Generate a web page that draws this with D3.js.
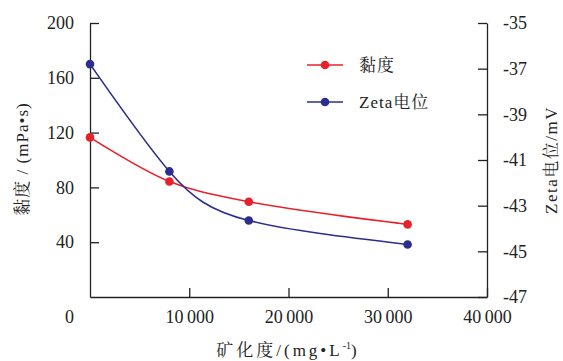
<!DOCTYPE html>
<html>
<head>
<meta charset="utf-8">
<script src="https://cdn.jsdelivr.net/npm/d3@7"></script>
</head>
<body style="margin:0">
<svg id="chart" width="563" height="361" font-family="Liberation Serif"></svg>
<script>
// mineralization (mg/L)
const minerals = [0, 8000, 16000, 32000];
// viscosity (mPa·s), left axis
const viscosity = [116.5, 84.3, 69.5, 53];
// zeta potential (mV), right axis
const zeta = [-36.8, -41.5, -43.65, -44.7];

const xTicks = [0, 10000, 20000, 30000, 40000];
const yLeftTicks = [40, 80, 120, 160, 200];
const yRightTicks = [-35, -37, -39, -41, -43, -45, -47];

const width = 563, height = 361;
const margin = { left: 90, right: 76, top: 23, bottom: 64 };
const LAT = "Liberation Serif";
const CJK = "Noto Serif CJK SC";

const svg = d3.select("#chart");

const x = d3.scaleLinear().domain([0, 40000]).range([margin.left, width - margin.right]);
const yL = d3.scaleLinear().domain([0, 200]).range([height - margin.bottom, margin.top]);
const yR = d3.scaleLinear().domain([-47, -35]).range([height - margin.bottom, margin.top]);

const fmt = d => d3.format(",")(d).replace(",", "\u2009");

// chinese runs get the CJK serif, the rest the latin serif
function mixed(sel, str) {
  const runs = str.match(/[\u3400-\u9fff]+|[^\u3400-\u9fff]+/g);
  runs.forEach(r => {
    sel.append("tspan").attr("font-family", /[\u3400-\u9fff]/.test(r) ? CJK : LAT).text(r);
  });
  return sel;
}

/* ===== axes ===== */
const xAxis = svg.append("g")
  .attr("transform", `translate(0,${height - margin.bottom})`)
  .call(d3.axisBottom(x).tickValues(xTicks).tickSizeInner(-9).tickSizeOuter(0).tickPadding(13).tickFormat(fmt));
xAxis.selectAll(".tick").filter(d => d === 0).select("line").remove();
xAxis.selectAll(".tick").filter(d => d === 0).select("text").attr("dx", -21);

svg.append("g")
  .attr("transform", `translate(${margin.left},0)`)
  .call(d3.axisLeft(yL).tickValues(yLeftTicks).tickSizeInner(-9).tickSizeOuter(0).tickPadding(16));

svg.append("g")
  .attr("transform", `translate(${width - margin.right},0)`)
  .call(d3.axisRight(yR).tickValues(yRightTicks).tickSizeInner(-9).tickSizeOuter(0).tickPadding(16)
    .tickFormat(d => "-" + Math.abs(d)));

// drop the axis defaults, put the font on each label itself
svg.selectAll("g").attr("font-family", null).attr("font-size", null);
svg.selectAll(".domain").attr("stroke", "#222").attr("stroke-width", 1.3);
svg.selectAll(".tick line").attr("stroke", "#222").attr("stroke-width", 1.3);
svg.selectAll(".tick text").attr("font-family", LAT).attr("font-size", 18).attr("fill", "#222");

/* ===== axis titles ===== */
mixed(svg.append("text")
  .attr("transform", "translate(28,159) rotate(-90)")
  .attr("text-anchor", "middle")
  .attr("font-size", 17).attr("fill", "#222")
  .attr("letter-spacing", 1), "黏度 / (mPa•s)");

mixed(svg.append("text")
  .attr("transform", "translate(557,160) rotate(-90)")
  .attr("text-anchor", "middle")
  .attr("font-size", 17).attr("fill", "#222")
  .attr("letter-spacing", 1.5), "Zeta电位/mV");

const xt = svg.append("text")
  .attr("x", 288).attr("y", 356)
  .attr("text-anchor", "middle")
  .attr("font-size", 17).attr("fill", "#222")
  .attr("letter-spacing", 3);
mixed(xt, "矿化度/(mg•L");
xt.append("tspan").attr("font-family", LAT).attr("dy", -7).attr("font-size", 10).attr("letter-spacing", 0).text("-1");
xt.append("tspan").attr("font-family", LAT).attr("dy", 7).text(")");

/* ===== lines ===== */
const red = "#e8202a", blue = "#2b2e8e";
const series = [
  { name: "黏度", color: red, vals: viscosity, y: yL, curve: d3.curveCatmullRom.alpha(0.5) },
  { name: "Zeta电位", color: blue, vals: zeta, y: yR, curve: d3.curveNatural }
];

series.forEach(s => {
  const line = d3.line()
    .x((d, i) => x(minerals[i]))
    .y(d => s.y(d))
    .curve(s.curve);
  svg.append("path")
    .attr("d", line(s.vals))
    .attr("fill", "none")
    .attr("stroke", s.color)
    .attr("stroke-width", 1.6);
  svg.selectAll(null).data(s.vals).join("circle")
    .attr("cx", (d, i) => x(minerals[i]))
    .attr("cy", d => s.y(d))
    .attr("r", 4.3)
    .attr("fill", s.color);
});

/* ===== legend ===== */
series.forEach((s, i) => {
  const ly = 65 + i * 37;
  svg.append("line").attr("x1", 307).attr("x2", 343).attr("y1", ly).attr("y2", ly)
    .attr("stroke", s.color).attr("stroke-width", 1.6);
  svg.append("circle").attr("cx", 325).attr("cy", ly).attr("r", 4.3).attr("fill", s.color);
  mixed(svg.append("text").attr("x", 359).attr("y", ly + 6)
    .attr("font-size", 17).attr("fill", "#222")
    .attr("letter-spacing", 1), s.name);
});
</script>
</body>
</html>
